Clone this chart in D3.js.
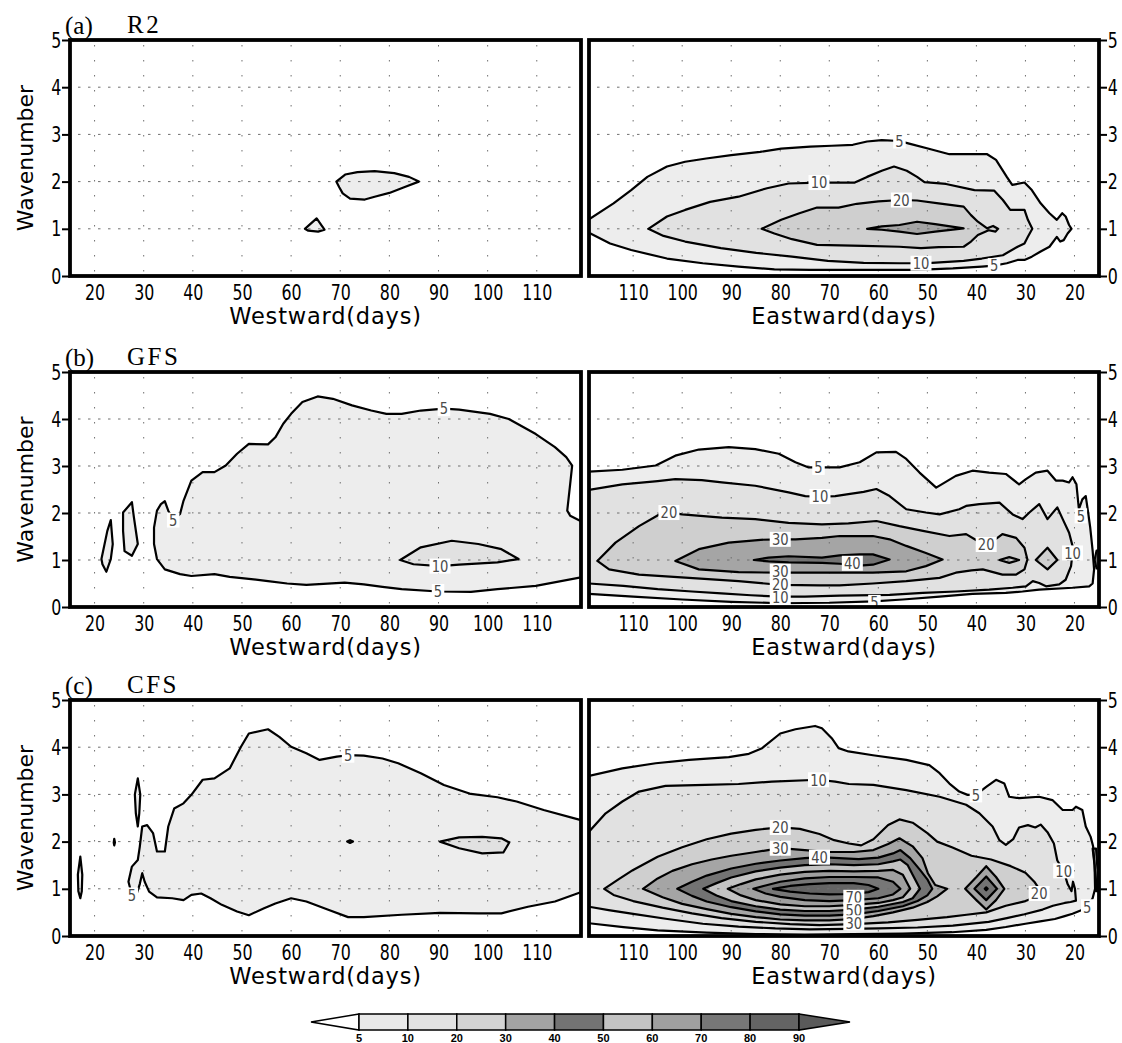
<!DOCTYPE html>
<html><head><meta charset="utf-8">
<script src="https://cdn.jsdelivr.net/npm/d3@7"></script>
<style>body{margin:0;background:#fff}</style>
</head><body>
<svg id="chart" width="1122" height="1043" xmlns="http://www.w3.org/2000/svg"></svg>
<script>
// ---------------- data ----------------
const X_TICKS = [20,30,40,50,60,70,80,90,100,110];
const Y_TICKS = [0,1,2,3,4,5];
const X_DOMAIN = [15,119];
const Y_DOMAIN = [0,5];
const LEVELS = [5,10,20,30,40,50,60,70,80,90];
const LEVEL_FILLS = ["#ededed","#e1e1e1","#cfcfcf","#a5a5a5","#737373","#c3c3c3","#a0a0a0","#777777","#646464","#595959"];
const PANEL_LETTERS = ["(a)","(b)","(c)"];
const MODEL_NAMES = ["R2","GFS","CFS"];
const WEST_TITLE = "Westward(days)";
const EAST_TITLE = "Eastward(days)";
const Y_TITLE = "Wavenumber";

// contours: level and outline points [period(days), wavenumber]
const R2_WEST = [
 {level:5, pts:[[69.2,2.0],[71,2.15],[73.5,2.2],[77,2.22],[81,2.18],[84,2.1],[86,2.0],[83,1.88],[80,1.76],[77,1.68],[75,1.62],[72,1.64],[70.5,1.75],[69.8,1.88]]},
 {level:5, pts:[[62.8,1.0],[65.2,1.22],[66.8,0.98],[65.5,0.94],[63.5,0.96]]}
];
const R2_WEST_LABELS = [];
const R2_EAST = [
 {level:5, pts:[[122,1.05],[119,1.2],[114,1.54],[110.4,1.82],[107.1,2.1],[103.1,2.32],[99.4,2.42],[95.1,2.49],[90,2.56],[84.1,2.63],[79.8,2.7],[73.9,2.74],[69.5,2.76],[65.2,2.78],[62.3,2.85],[59.3,2.88],[55.7,2.86],[53.9,2.81],[49.9,2.7],[45.5,2.58],[42.6,2.58],[37.8,2.58],[36,2.46],[33.8,2.1],[32.7,1.93],[30.2,1.98],[28.7,1.82],[26.9,1.54],[25.1,1.33],[23.6,1.19],[22.5,1.33],[21.8,1.26],[21.1,1.08],[20.6,1.0],[21.4,0.9],[22.2,0.76],[22.9,0.73],[23.6,0.83],[25.1,0.62],[26.9,0.52],[28.7,0.41],[30.2,0.34],[31.6,0.34],[33.8,0.27],[36.4,0.22],[38.9,0.2],[44.8,0.16],[52.1,0.13],[59.3,0.13],[66.6,0.13],[73.9,0.13],[81.2,0.14],[88.5,0.2],[95.8,0.27],[103.1,0.37],[110.4,0.55],[114.7,0.69],[118.7,0.9],[122,1.0]]},
 {level:10, pts:[[106.9,1.0],[103.1,1.26],[99.4,1.4],[94.3,1.57],[88.5,1.68],[82.7,1.86],[78.3,1.96],[72.1,1.98],[69.5,1.98],[64.8,1.98],[62.3,2.1],[59.3,2.23],[56.8,2.32],[54.2,2.23],[52.1,2.1],[50.6,1.99],[46.2,1.95],[40.4,1.82],[36.4,1.81],[34.6,1.61],[33.1,1.4],[30.2,1.4],[29.5,1.19],[28.6,1.0],[29.5,0.83],[30.2,0.69],[31.6,0.62],[34.6,0.44],[38.9,0.37],[42.6,0.32],[49.1,0.28],[51.3,0.27],[55.7,0.27],[63,0.28],[70.3,0.32],[77.6,0.41],[84.9,0.49],[92.1,0.59],[99.4,0.73],[103.8,0.85]]},
 {level:20, pts:[[83.8,1.0],[79.8,1.19],[76.1,1.33],[72.5,1.45],[68.1,1.45],[64.4,1.53],[60,1.58],[55.3,1.61],[52.1,1.6],[47.7,1.54],[42.6,1.47],[41.1,1.29],[39.7,1.15],[37.8,1.01],[36.6,1.06],[35.6,1.0],[36.1,0.94],[37.5,0.97],[39.7,0.87],[41.1,0.73],[42.6,0.62],[47.7,0.61],[51.3,0.59],[55.7,0.62],[63,0.64],[72.5,0.66],[77.6,0.78],[81.2,0.9]]},
 {level:30, pts:[[62.3,1.0],[59.3,1.05],[55.7,1.08],[52.1,1.15],[48.4,1.1],[42.6,1.01],[48.4,0.94],[52.1,0.89],[55.7,0.94],[59.3,0.98]]}
];
const R2_EAST_LABELS = [[55.7,2.86,"5"],[72.1,1.98,"10"],[55.3,1.61,"20"],[51.3,0.27,"10"],[36.4,0.22,"5"]];

const GFS_WEST = [
 {level:5, pts:[[37.4,1.98],[38.1,2.26],[39.7,2.69],[42,2.87],[44.4,2.87],[46.7,3.01],[49,3.26],[51.4,3.47],[55.3,3.46],[56.8,3.61],[58.4,3.9],[60,4.11],[62.3,4.36],[65.4,4.48],[68.5,4.43],[72.4,4.29],[76.3,4.18],[79.4,4.11],[82.5,4.11],[86.4,4.18],[91.1,4.22],[94.2,4.2],[100.5,4.11],[104.3,4.0],[109.8,3.68],[113.7,3.4],[116,3.19],[117.2,3.01],[116.8,2.62],[116.2,2.05],[116.8,1.94],[119.1,1.82],[122,1.7],[122,0.6],[119,0.63],[109.8,0.45],[102,0.38],[96.6,0.32],[89.9,0.33],[82.5,0.38],[78.6,0.43],[74.8,0.48],[70.9,0.52],[63.1,0.47],[59.2,0.5],[55.3,0.55],[51.4,0.6],[47.5,0.64],[44.4,0.7],[39.7,0.66],[37.4,0.7],[34.3,0.8],[32.7,1.02],[32.1,1.34],[32.1,1.69],[32.7,2.05],[33.5,2.19],[34.3,2.25],[35,2.05],[36,1.85]]},
 {level:10, pts:[[82.2,1.0],[86.4,1.27],[92.7,1.41],[98.1,1.34],[102.8,1.23],[106.3,1.02],[102,0.95],[94.2,0.9],[90.3,0.87],[84.9,0.91]]},
 {level:5, pts:[[21.4,1.02],[22.6,1.62],[23.3,1.85],[23.7,1.34],[23.3,1.02],[22.4,0.75],[21.6,0.91]]},
 {level:5, pts:[[25.8,2.01],[27.6,2.23],[28,1.91],[28.8,1.34],[27.6,1.09],[26.1,1.19],[25.8,1.62]]}
];
const GFS_WEST_LABELS = [[36,1.85,"5"],[91.1,4.22,"5"],[90.3,0.87,"10"],[89.9,0.33,"5"]];
const GFS_EAST = [
 {level:5, pts:[[121,2.88],[119,2.88],[112.2,2.92],[105.4,3.01],[101.4,3.22],[96.6,3.35],[90.5,3.4],[85.1,3.36],[80.3,3.26],[76.9,3.08],[74.2,2.97],[72.2,2.97],[69.5,2.97],[67.9,2.97],[63.8,3.08],[60.4,3.29],[56.4,3.3],[54.3,3.15],[51.6,2.86],[48.2,2.54],[44.2,2.79],[40.8,2.9],[37.4,2.86],[34,2.83],[31.3,2.61],[29.9,2.72],[27.9,2.86],[25.5,2.9],[23.8,2.69],[22.4,2.69],[21.1,2.65],[20.4,2.76],[19.6,2.61],[19.1,2.08],[18.4,2.29],[17.7,2.36],[17.2,2.0],[16.8,1.7],[16.5,1.4],[16.3,1.2],[16.0,0.8],[16.3,0.5],[17,0.44],[20.4,0.41],[27.2,0.37],[30.6,0.33],[34,0.3],[40.8,0.28],[47.5,0.22],[55,0.16],[61,0.12],[70,0.09],[80,0.08],[90,0.11],[100,0.16],[110,0.22],[119,0.28],[121,0.28]]},
 {level:10, pts:[[121,2.49],[119,2.49],[112.2,2.61],[105,2.68],[101.4,2.72],[96,2.7],[91.9,2.65],[85.1,2.58],[78.3,2.44],[74.9,2.36],[71.9,2.35],[68.8,2.36],[66.1,2.4],[63,2.45],[60.4,2.51],[57.7,2.36],[54.3,2.08],[50.3,2.01],[47.5,1.97],[43.5,2.08],[42.1,2.15],[39.4,2.19],[35.3,2.22],[32.6,1.97],[30.6,1.87],[29.2,2.01],[27.2,2.19],[25.5,1.87],[23.5,2.12],[22.4,1.87],[21.1,1.58],[20.4,1.3],[20.4,1.15],[20.7,0.87],[21.8,0.58],[23.1,0.48],[25.8,0.44],[27.2,0.51],[28.5,0.55],[29.9,0.44],[32.6,0.41],[37.4,0.37],[44.2,0.33],[50.9,0.3],[57.7,0.26],[67.9,0.24],[75,0.22],[80,0.22],[86,0.25],[92,0.29],[98,0.33],[105,0.38],[112,0.45],[119,0.5],[121,0.5]]},
 {level:20, pts:[[117.3,0.98],[113.6,1.37],[108.8,1.72],[104.5,1.98],[102.7,2.01],[100,1.97],[91.9,1.9],[85.1,1.87],[78.3,1.79],[71.5,1.76],[66.1,1.78],[60.4,1.83],[55.7,1.72],[50.9,1.62],[45.5,1.51],[42.1,1.55],[40,1.42],[38,1.33],[36,1.45],[34.7,1.55],[31.9,1.47],[30.2,1.26],[29.6,1.01],[30.2,0.8],[31.9,0.69],[34.7,0.69],[38.7,0.8],[41,0.78],[44.2,0.73],[47.5,0.62],[54.3,0.55],[61.1,0.5],[67.9,0.46],[72,0.46],[80,0.47],[88.5,0.55],[98.6,0.62],[108.8,0.69],[114.9,0.8]]},
 {level:20, pts:[[35.3,1.0],[33.3,1.06],[31.3,1.0],[33.3,0.94]]},
 {level:20, pts:[[27.9,1.0],[25.5,1.26],[23.5,1.0],[25.5,0.8]]},
 {level:30, pts:[[101.4,0.98],[96.6,1.23],[90.5,1.37],[84,1.43],[80,1.44],[76.9,1.44],[71.5,1.47],[67.9,1.51],[61.1,1.51],[57.7,1.44],[54.3,1.3],[50.3,1.15],[46.9,1.01],[50.3,0.87],[54.3,0.76],[61.1,0.73],[67.9,0.73],[71.5,0.73],[80,0.73],[88.5,0.74],[96.6,0.8]]},
 {level:40, pts:[[85.4,1.0],[82.4,1.05],[78.3,1.08],[71.5,1.05],[67.9,1.1],[63.8,1.12],[61.1,1.12],[57.7,1.01],[61.1,0.9],[63.8,0.88],[67.9,0.92],[71.5,0.94],[78.3,0.95],[82.4,0.97]]},
 {level:40, pts:[[15.9,1.0],[15.5,1.2],[14.9,1.2],[14.9,0.82],[15.5,0.82]]}
];
const GFS_EAST_LABELS = [[72.2,2.97,"5"],[71.9,2.35,"10"],[102.7,2.01,"20"],[80,1.44,"30"],[65.3,0.93,"40"],[80,0.76,"30"],[80,0.48,"20"],[80,0.2,"10"],[60.8,0.1,"5"],[38,1.33,"20"],[20.4,1.15,"10"],[18.7,1.94,"5"]];

const CFS_WEST = [
 {level:5, pts:[[27.6,0.87],[26.9,1.15],[27.6,1.47],[28.8,1.61],[29.2,1.89],[29.7,2.32],[30.7,2.35],[31.9,2.18],[32.7,1.79],[34.3,1.79],[35.0,2.32],[36.2,2.7],[38.1,2.81],[39.7,2.99],[42.0,3.31],[44.4,3.34],[47.5,3.55],[49.8,4.01],[51.4,4.29],[55.3,4.38],[57.6,4.22],[60,4.01],[63.1,3.87],[65.8,3.73],[69.3,3.8],[71.6,3.83],[74.8,3.82],[78.6,3.76],[81.8,3.66],[86.4,3.45],[91.1,3.2],[96.6,3.01],[102,2.94],[105.9,2.85],[111.4,2.67],[118.8,2.46],[121,2.4],[121,0.88],[118.8,0.92],[113.7,0.73],[108.2,0.62],[102.8,0.48],[98.1,0.48],[90.3,0.49],[82.5,0.45],[74.8,0.4],[71.6,0.4],[67.7,0.55],[63.1,0.73],[60,0.8],[56.8,0.69],[54.5,0.59],[51.4,0.44],[49,0.52],[45.9,0.66],[43.6,0.8],[41.7,0.9],[39.7,0.87],[38.1,0.76],[35.8,0.8],[32.7,0.82],[31.1,0.94],[30.2,1.15],[29.7,1.33],[29.2,1.1],[28.6,0.9]]},
 {level:10, pts:[[90.3,2.0],[94.2,2.09],[98.9,2.1],[102.8,2.07],[104.4,1.98],[103.2,1.77],[98.9,1.75],[94.2,1.86]]},
 {level:5, pts:[[17.1,1.68],[17.5,1.3],[17.4,0.95],[17.1,0.8],[16.7,0.95],[16.6,1.3]]},
 {level:5, pts:[[28.8,3.34],[29.3,3.0],[29.1,2.6],[28.8,2.32],[28.4,2.6],[28.2,3.0]]},
 {level:5, pts:[[24,2.06],[24.15,1.98],[24,1.92],[23.9,1.98]]},
 {level:5, pts:[[71.4,2.0],[72,2.03],[72.6,2.0],[72,1.97]]}
];
const CFS_WEST_LABELS = [[27.6,0.87,"5"],[71.6,3.83,"5"]];
const CFS_EAST = [
 {level:5, pts:[[121,3.35],[119,3.39],[112.2,3.55],[105.4,3.66],[98.6,3.73],[90.5,3.79],[86.4,3.86],[83.7,3.98],[80,4.29],[76.9,4.38],[72.9,4.45],[71.5,4.4],[69.5,4.19],[68.1,3.98],[66.1,3.91],[61.1,3.83],[54.3,3.73],[49.6,3.62],[47.5,3.45],[45.5,3.23],[43.5,3.06],[41.8,2.99],[40.1,2.99],[38,3.16],[36,3.31],[34.3,3.23],[33.3,2.95],[31.3,2.92],[27.2,2.95],[24.5,2.88],[22.4,2.67],[20.4,2.67],[19.7,2.74],[18.4,2.67],[17.7,2.32],[16.7,2.1],[16.2,1.9],[15.9,1.5],[15.8,1.0],[16.3,0.8],[17.4,0.62],[18.5,0.55],[20.4,0.47],[22,0.42],[24,0.36],[27,0.31],[30,0.26],[34,0.19],[38,0.13],[45,0.08],[55,0.05],[65,0.04],[75,0.03],[85,0.04],[95,0.07],[105,0.12],[112,0.19],[119,0.27],[121,0.29]]},
 {level:10, pts:[[121,2.0],[119,2.21],[115.6,2.6],[112.2,2.85],[108.8,3.06],[103.4,3.18],[95.3,3.2],[88.5,3.22],[81.7,3.27],[72.2,3.31],[68.8,3.27],[66,3.22],[61,3.2],[54.3,3.09],[47.5,2.95],[42.1,2.78],[39.4,2.6],[36.7,2.32],[35.3,2.03],[34,1.93],[32.5,2.05],[31.3,2.3],[29.5,2.35],[28,2.3],[26.9,2.36],[25.5,2.2],[24.2,1.96],[23.5,1.6],[22.2,1.38],[21.4,1.1],[20.6,0.95],[20.3,1.15],[19.9,1.0],[19.7,0.75],[20.8,0.72],[22,0.7],[24.4,0.64],[26.5,0.56],[30.2,0.46],[33.8,0.38],[37.5,0.3],[44.8,0.22],[52,0.18],[60,0.16],[66,0.15],[74,0.14],[81,0.16],[88.5,0.2],[95.8,0.26],[103,0.36],[110,0.47],[115,0.55],[119,0.62],[121,0.64]]},
 {level:10, pts:[[16.3,1.85],[15.9,1.5],[15.7,1.2],[15.6,0.95],[15.2,0.95],[15.3,1.4],[15.6,1.85]]},
 {level:20, pts:[[115.9,1.0],[113,1.2],[110,1.4],[105,1.68],[100,1.88],[95,2.05],[90,2.17],[85,2.25],[80,2.3],[76,2.27],[72,2.16],[69,2.03],[66,1.96],[63.5,1.92],[61,2.05],[58,2.35],[55.7,2.47],[53,2.4],[50,2.18],[48,2.0],[45,1.88],[41,1.7],[37,1.62],[33,1.48],[30,1.34],[28.2,1.15],[27.2,1.0],[28,0.82],[30,0.74],[34,0.64],[38,0.5],[42,0.45],[46,0.4],[52,0.34],[58,0.29],[65,0.25],[72,0.23],[78,0.25],[85,0.3],[92,0.38],[98,0.48],[104,0.6],[110,0.74],[114,0.87]]},
 {level:30, pts:[[108,1.0],[105,1.22],[102,1.38],[98,1.52],[94,1.62],[90,1.7],[85,1.78],[80,1.86],[75,1.82],[70,1.78],[65,1.78],[61,1.82],[58,1.95],[55.7,2.07],[53,1.9],[51,1.65],[49.9,1.33],[48.4,1.08],[46,1.0],[48,0.84],[50,0.72],[53,0.6],[57,0.5],[61,0.42],[65,0.36],[70,0.33],[75,0.33],[80,0.35],[85,0.4],[90,0.47],[95,0.57],[100,0.68],[104,0.82]]},
 {level:30, pts:[[42.3,1.0],[40,1.25],[38,1.48],[36,1.25],[34.3,1.0],[36,0.76],[38,0.56],[40,0.76]]},
 {level:40, pts:[[40.4,1.0],[38,1.26],[35.8,1.0],[38,0.76]]},
 {level:50, pts:[[38.3,1.0],[38,1.03],[37.7,1.0],[38,0.97]]},
 {level:40, pts:[[101,1.0],[98,1.15],[95,1.28],[90,1.43],[85,1.53],[80,1.6],[75,1.65],[72,1.67],[68,1.65],[64,1.63],[60,1.66],[57,1.75],[55.5,1.82],[53.5,1.65],[51.5,1.4],[50,1.2],[49,1.0],[50,0.86],[52,0.74],[55,0.63],[60,0.53],[65,0.46],[70,0.43],[75,0.43],[80,0.46],[85,0.52],[90,0.61],[95,0.73],[98,0.85]]},
 {level:50, pts:[[95.7,1.0],[93,1.12],[90,1.24],[85,1.37],[80,1.45],[75,1.5],[70,1.52],[65,1.5],[60,1.52],[57,1.58],[55.5,1.62],[54,1.5],[53,1.3],[51.5,1.0],[53,0.8],[55,0.72],[60,0.62],[65,0.56],[70,0.53],[75,0.53],[80,0.56],[85,0.63],[90,0.74],[93,0.86]]},
 {level:60, pts:[[90.7,1.0],[88,1.1],[85,1.2],[80,1.3],[75,1.36],[70,1.38],[65,1.37],[60,1.38],[57,1.4],[55,1.3],[53.5,1.0],[55,0.82],[57,0.76],[60,0.7],[65,0.66],[70,0.63],[75,0.63],[80,0.67],[85,0.76],[88,0.86]]},
 {level:70, pts:[[85.5,1.0],[83,1.07],[80,1.15],[75,1.22],[70,1.25],[65,1.25],[60,1.24],[57,1.15],[55.5,1.0],[57,0.88],[60,0.8],[65,0.76],[70,0.74],[75,0.76],[80,0.83],[83,0.9]]},
 {level:80, pts:[[81.5,1.0],[78,1.06],[74,1.1],[70,1.12],[65,1.12],[62,1.08],[60,1.0],[62,0.93],[65,0.89],[70,0.88],[74,0.9],[78,0.94]]}
];
const CFS_EAST_LABELS = [[40.1,2.99,"5"],[72.2,3.31,"10"],[80,2.3,"20"],[80,1.86,"30"],[72,1.67,"40"],[65,0.82,"70"],[65,0.55,"50"],[65,0.28,"30"],[27.2,0.9,"20"],[22.2,1.38,"10"],[17.4,0.62,"5"]];

const CB_LABELS = ["5","10","20","30","40","50","60","70","80","90"];
const CB_FILLS = ["#e9e9e9","#e2e2e2","#d3d3d3","#a3a3a3","#737373","#c3c3c3","#a0a0a0","#777777","#646464"];
const CB_OVER = "#5a5a5a";

// ---------------- drawing ----------------
const svg = d3.select("#chart");
const SANS = "'DejaVu Sans',sans-serif";
const SERIF = "'Liberation Serif','Times New Roman',serif";
const TICK_SQUEEZE = "scale(0.72,1)";
const fillOf = lv => LEVEL_FILLS[LEVELS.indexOf(lv)];

const PANELS = [
  {row:0, top:40, bottom:276, west:R2_WEST, westLab:R2_WEST_LABELS, east:R2_EAST, eastLab:R2_EAST_LABELS},
  {row:1, top:372, bottom:607, west:GFS_WEST, westLab:GFS_WEST_LABELS, east:GFS_EAST, eastLab:GFS_EAST_LABELS},
  {row:2, top:700, bottom:936, west:CFS_WEST, westLab:CFS_WEST_LABELS, east:CFS_EAST, eastLab:CFS_EAST_LABELS}
];

let clipN = 0;
function drawPanel(P, side){
  const west = side === "west";
  const x = d3.scaleLinear().domain(west ? X_DOMAIN : [X_DOMAIN[1], X_DOMAIN[0]])
             .range(west ? [70,581] : [589,1099]);
  const y = d3.scaleLinear().domain(Y_DOMAIN).range([P.bottom, P.top]);
  const contours = west ? P.west : P.east;
  const labels = west ? P.westLab : P.eastLab;
  const id = "clip" + (clipN++);
  svg.append("clipPath").attr("id", id).append("rect")
    .attr("x", x.range()[0]).attr("y", P.top)
    .attr("width", x.range()[1]-x.range()[0]).attr("height", P.bottom-P.top);
  const g = svg.append("g").attr("clip-path", `url(#${id})`);
  const line = d3.line().x(d=>x(d[0])).y(d=>y(d[1]));
  const sorted = contours.map((c,i)=>({c,i})).sort((a,b)=>a.c.level-b.c.level || a.i-b.i).map(o=>o.c);
  g.selectAll("path.fill").data(sorted).join("path").attr("class","fill")
    .attr("d", c => line(c.pts) + "Z").attr("fill", c => fillOf(c.level)).attr("stroke","none");
  // grid
  g.selectAll("line.hg").data([1,2,3,4]).join("line").attr("class","hg")
    .attr("x1", x.range()[0]+8).attr("x2", x.range()[1]-8)
    .attr("y1", d=>y(d)).attr("y2", d=>y(d))
    .attr("stroke","#6f6f6f").attr("stroke-width",1).attr("stroke-dasharray","2.5,7.5");
  g.selectAll("line.vg").data(X_TICKS).join("line").attr("class","vg")
    .attr("x1", d=>x(d)).attr("x2", d=>x(d))
    .attr("y1", P.top+5).attr("y2", P.bottom-3)
    .attr("stroke","#6f6f6f").attr("stroke-width",1).attr("stroke-dasharray","1.5,13.5");
  // contour lines
  g.selectAll("path.line").data(sorted).join("path").attr("class","line")
    .attr("d", c => line(c.pts) + "Z").attr("fill","none")
    .attr("stroke","#000").attr("stroke-width",2.2).attr("stroke-linejoin","round");
  // labels
  const lg = g.selectAll("g.lab").data(labels).join("g").attr("class","lab")
    .attr("transform", d=>`translate(${x(d[0])},${y(d[1])})`);
  lg.each(function(d){
    const s = d3.select(this);
    const w = d[2].length*8.5 + 4;
    s.append("rect").attr("x",-w/2).attr("y",-7.5).attr("width",w).attr("height",15).attr("fill","#fff");
    s.append("text").text(d[2]).attr("text-anchor","middle").attr("dy","0.36em")
      .attr("transform","scale(0.82,1)")
      .attr("font-family",SANS).attr("font-size",16).attr("fill","#4a4a4a");
  });
  // frame
  svg.append("rect").attr("x", x.range()[0]).attr("y", P.top)
    .attr("width", x.range()[1]-x.range()[0]).attr("height", P.bottom-P.top)
    .attr("fill","none").attr("stroke","#000").attr("stroke-width",3.8);
  // x axis
  const xa = svg.append("g").attr("transform",`translate(0,${P.bottom})`)
    .call(d3.axisBottom(x).tickValues(X_TICKS).tickSize(0).tickPadding(8).tickFormat(d3.format("d")));
  xa.select(".domain").remove();
  xa.selectAll("text").attr("font-family",SANS).attr("font-size",22).attr("fill","#000")
    .attr("dy","0.72em").attr("transform",TICK_SQUEEZE);
  // y axis
  const ya = svg.append("g").attr("transform",`translate(${west ? x.range()[0] : x.range()[1]},0)`)
    .call((west ? d3.axisLeft(y) : d3.axisRight(y)).tickValues(Y_TICKS).tickSize(8).tickPadding(4).tickFormat(d3.format("d")));
  ya.select(".domain").remove();
  ya.selectAll("line").attr("stroke","#000").attr("stroke-width",2);
  ya.selectAll("text").attr("font-family",SANS).attr("font-size",22).attr("fill","#000").attr("transform",TICK_SQUEEZE);
  // axis title
  svg.append("text").text(west ? WEST_TITLE : EAST_TITLE)
    .attr("x",(x.range()[0]+x.range()[1])/2).attr("y",P.bottom+48)
    .attr("text-anchor","middle").attr("font-family",SANS).attr("font-size",22.5)
    .attr("letter-spacing","0.8px").attr("fill","#000");
  if (west){
    svg.append("text").text(Y_TITLE)
      .attr("transform",`translate(33,${(P.top+P.bottom)/2}) rotate(-90)`)
      .attr("text-anchor","middle").attr("font-family",SANS).attr("font-size",22).attr("fill","#000");
    svg.append("text").text(PANEL_LETTERS[P.row]).attr("x",65).attr("y",P.top-6)
      .attr("font-family",SERIF).attr("font-size",25).attr("fill","#000");
    svg.append("text").text(MODEL_NAMES[P.row]).attr("x",127).attr("y",P.top-7)
      .attr("font-family",SERIF).attr("font-size",25).attr("letter-spacing","2.5px").attr("fill","#000");
  }
}
PANELS.forEach(P => { drawPanel(P,"west"); drawPanel(P,"east"); });

// colorbar
const cbx = d3.scaleLinear().domain([0, CB_FILLS.length]).range([359, 799]);
const cbTop = 1014, cbBot = 1030, cbMid = (cbTop+cbBot)/2;
const cb = svg.append("g");
cb.append("path").attr("d", `M${cbx(0)},${cbTop} L311,${cbMid} L${cbx(0)},${cbBot} Z`)
  .attr("fill","#fff").attr("stroke","#000").attr("stroke-width",1.5);
cb.selectAll("rect.cb").data(CB_FILLS).join("rect").attr("class","cb")
  .attr("x",(d,i)=>cbx(i)).attr("y",cbTop).attr("width",(d,i)=>cbx(i+1)-cbx(i)).attr("height",cbBot-cbTop)
  .attr("fill",d=>d).attr("stroke","#000").attr("stroke-width",1.5);
cb.append("path").attr("d", `M${cbx(CB_FILLS.length)},${cbTop} L850,${cbMid} L${cbx(CB_FILLS.length)},${cbBot} Z`)
  .attr("fill",CB_OVER).attr("stroke","#000").attr("stroke-width",1.5);
cb.selectAll("text.cbl").data(CB_LABELS).join("text").attr("class","cbl")
  .attr("x",(d,i)=>cbx(i)).attr("y",1041.5).attr("text-anchor","middle")
  .attr("font-family","'Liberation Sans',sans-serif").attr("font-weight","bold").attr("font-size",11).attr("fill","#000")
  .text(d=>d);
</script></body></html>
